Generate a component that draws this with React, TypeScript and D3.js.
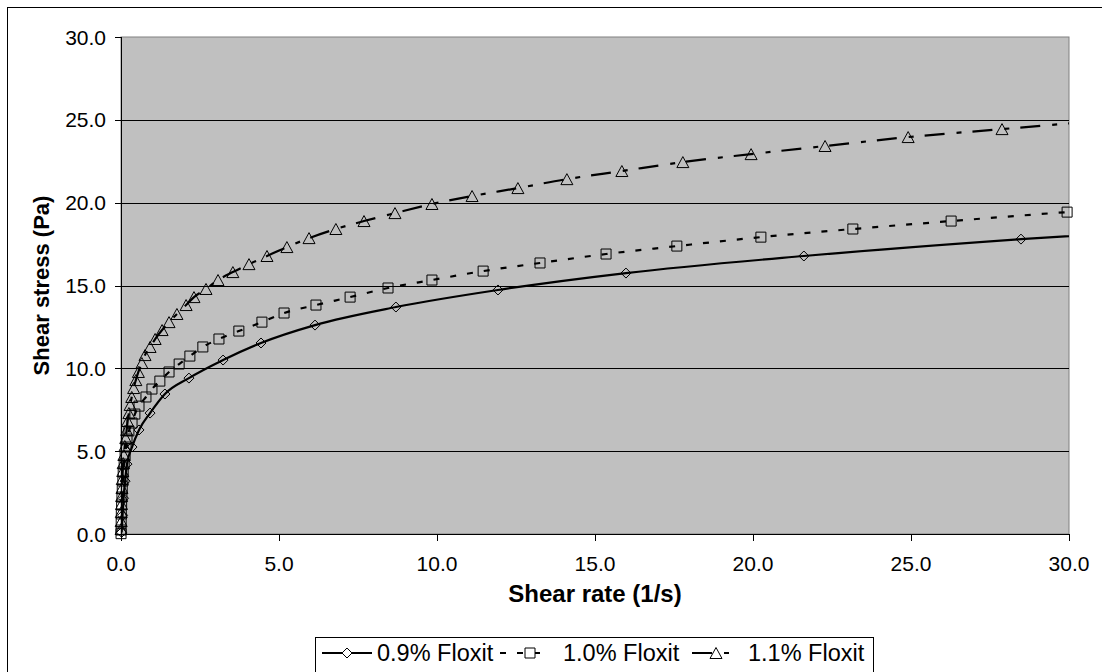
import React from 'react';
import * as d3 from 'd3';

const xTicks = [0, 5, 10, 15, 20, 25, 30];
const yTicks = [0, 5, 10, 15, 20, 25, 30];
const seriesNames = ['0.9% Floxit', '1.0% Floxit', '1.1% Floxit'];

const shear09 = [0.02, 0.05, 0.08, 0.13, 0.19, 0.35, 0.57, 0.92, 1.39, 2.15, 3.23, 4.43, 6.14, 8.70, 11.93, 15.98, 21.61, 28.48, 37.4];
const stress09 = [0.10, 1.13, 2.16, 3.19, 4.22, 5.25, 6.28, 7.30, 8.45, 9.41, 10.50, 11.53, 12.61, 13.70, 14.73, 15.75, 16.78, 17.80, 18.85];

const shear10 = [0.001, 0.003, 0.006, 0.01, 0.02, 0.03, 0.04, 0.06, 0.07, 0.10, 0.13, 0.16, 0.19, 0.25, 0.35, 0.44, 0.57, 0.79, 0.98, 1.23, 1.52, 1.84, 2.18, 2.59, 3.10, 3.73, 4.46, 5.16, 6.17, 7.25, 8.45, 9.84, 11.46, 13.26, 15.35, 17.59, 20.25, 23.16, 26.27, 29.94, 34.0];
const stress10 = [0.02, 0.24, 0.72, 1.21, 1.75, 2.23, 2.72, 3.20, 3.74, 4.22, 4.71, 5.25, 5.73, 6.22, 6.70, 7.24, 7.72, 8.27, 8.75, 9.23, 9.78, 10.26, 10.74, 11.29, 11.77, 12.25, 12.79, 13.34, 13.82, 14.30, 14.85, 15.33, 15.87, 16.36, 16.90, 17.38, 17.92, 18.41, 18.89, 19.43, 19.92];

const shear11 = [0.003, 0.006, 0.01, 0.015, 0.02, 0.03, 0.04, 0.055, 0.07, 0.09, 0.12, 0.15, 0.18, 0.21, 0.25, 0.29, 0.34, 0.40, 0.47, 0.55, 0.66, 0.76, 0.92, 1.08, 1.30, 1.52, 1.77, 2.06, 2.31, 2.69, 3.07, 3.54, 4.05, 4.62, 5.25, 5.95, 6.80, 7.69, 8.67, 9.84, 11.11, 12.56, 14.11, 15.85, 17.78, 19.94, 22.28, 24.91, 27.88, 31.2];
const stress11 = [0.30, 0.78, 1.33, 1.81, 2.29, 2.78, 3.32, 3.80, 4.28, 4.77, 5.31, 5.79, 6.28, 6.82, 7.30, 7.79, 8.27, 8.81, 9.29, 9.78, 10.32, 10.80, 11.29, 11.77, 12.31, 12.79, 13.28, 13.82, 14.30, 14.79, 15.33, 15.81, 16.29, 16.78, 17.32, 17.86, 18.41, 18.89, 19.37, 19.92, 20.40, 20.88, 21.42, 21.91, 22.45, 22.93, 23.42, 23.96, 24.44, 24.98];

const FONT = '"Liberation Sans", Arial, sans-serif';

function markerPath(kind: string, cx: number, cy: number): string {
  if (kind === 'diamond') {
    const r = 5;
    return `M${cx},${cy - r}L${cx + r},${cy}L${cx},${cy + r}L${cx - r},${cy}Z`;
  }
  if (kind === 'square') {
    const h = 5;
    return `M${cx - h},${cy - h}H${cx + h}V${cy + h}H${cx - h}Z`;
  }
  const hw = 6, hh = 5.5;
  return `M${cx},${cy - hh}L${cx + hw},${cy + hh}L${cx - hw},${cy + hh}Z`;
}

export default function App() {
  const left = 121, right = 1069, top = 37, bottom = 534;
  const x = d3.scaleLinear().domain([0, 30]).range([left, right]);
  const y = d3.scaleLinear().domain([0, 30]).range([bottom, top]);
  const fmt = d3.format('.1f');

  const series = [
    { name: seriesNames[0], xs: shear09, ys: stress09, dash: undefined as string | undefined, marker: 'diamond' },
    { name: seriesNames[1], xs: shear10, ys: stress10, dash: '6,11', marker: 'square' },
    { name: seriesNames[2], xs: shear11, ys: stress11, dash: '20,12,5,11', marker: 'triangle' },
  ];

  const line = d3
    .line<[number, number]>()
    .x((d) => x(d[0]))
    .y((d) => y(d[1]))
    .curve(d3.curveMonotoneX);

  const legendItems = [
    { x0: 322, x1: 372, mx: 347, tx: 377 },
    { x0: 500, x1: 549, mx: 530, tx: 563 },
    { x0: 692, x1: 729, mx: 716, tx: 748 },
  ];
  const legY = 653;

  return (
    <svg
      width={1102}
      height={672}
      style={{ position: 'absolute', left: 0, top: 0, background: '#fff' }}
      fontFamily={FONT}
    >
      <defs>
        <clipPath id="plotClip">
          <rect x={left} y={top} width={right - left} height={bottom - top} />
        </clipPath>
      </defs>
      <rect x={7.5} y={7.5} width={1110} height={700} fill="#fff" stroke="#000" strokeWidth={1} />
      <rect x={left} y={top} width={right - left} height={bottom - top} fill="#C0C0C0" stroke="#808080" strokeWidth={1} />
      {yTicks.filter((t) => t > 0 && t < 30).map((t) => (
        <line key={'g' + t} x1={left} x2={right} y1={Math.round(y(t)) + 0.5} y2={Math.round(y(t)) + 0.5} stroke="#000" strokeWidth={1} />
      ))}
      <line x1={left + 0.5} x2={left + 0.5} y1={top} y2={bottom} stroke="#000" strokeWidth={1} />
      <line x1={left} x2={right} y1={bottom + 0.5} y2={bottom + 0.5} stroke="#000" strokeWidth={1} />
      {yTicks.map((t) => (
        <g key={'yt' + t}>
          <line x1={left - 6} x2={left} y1={Math.round(y(t)) + 0.5} y2={Math.round(y(t)) + 0.5} stroke="#000" />
          <text x={106} y={y(t)} dy="0.36em" textAnchor="end" fontSize={21} fill="#000">
            {fmt(t)}
          </text>
        </g>
      ))}
      {xTicks.map((t) => (
        <g key={'xt' + t}>
          <line x1={Math.round(x(t)) + 0.5} x2={Math.round(x(t)) + 0.5} y1={bottom} y2={bottom + 7} stroke="#000" />
          <text x={x(t)} y={571} textAnchor="middle" fontSize={21} fill="#000">
            {fmt(t)}
          </text>
        </g>
      ))}
      <text x={(left + right) / 2} y={602} textAnchor="middle" fontSize={24} fontWeight="bold" fill="#000">
        Shear rate (1/s)
      </text>
      <text
        transform={`translate(49,${(top + bottom) / 2}) rotate(-90)`}
        textAnchor="middle"
        fontSize={22}
        fontWeight="bold"
        fill="#000"
      >
        Shear stress (Pa)
      </text>

      <g clipPath="url(#plotClip)">
        {series.map((s, i) => (
          <path
            key={'l' + i}
            d={line(s.xs.map((v, j) => [v, s.ys[j]] as [number, number])) || ''}
            fill="none"
            stroke="#000"
            strokeWidth={2.2}
            strokeDasharray={s.dash}
          />
        ))}
      </g>
      {series.map((s, i) => (
        <g key={'m' + i}>
          {s.xs.map((v, j) =>
            v <= 30 ? (
              <path key={j} d={markerPath(s.marker, x(v), y(s.ys[j]))} fill="none" stroke="#000" strokeWidth={1} />
            ) : null
          )}
        </g>
      ))}

      <rect x={315.5} y={637.5} width={558} height={45} fill="#fff" stroke="#000" strokeWidth={1} />
      {series.map((s, i) => {
        const it = legendItems[i];
        return (
          <g key={'lg' + i}>
            <line x1={it.x0} x2={it.x1} y1={legY} y2={legY} stroke="#000" strokeWidth={2.2} strokeDasharray={s.dash} />
            <path d={markerPath(s.marker, it.mx, legY)} fill="#fff" stroke="#000" strokeWidth={1} />
            <text x={it.tx} y={legY} dy="0.36em" fontSize={23.5} fill="#000">
              {s.name}
            </text>
          </g>
        );
      })}
    </svg>
  );
}
